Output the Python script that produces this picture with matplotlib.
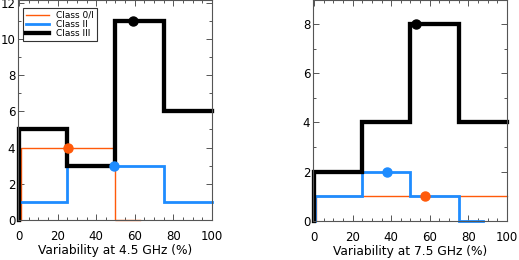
import matplotlib
matplotlib.use("Agg")
import matplotlib.pyplot as plt
from matplotlib.ticker import MultipleLocator

plt.rcParams['font.family'] = ['DejaVu Sans']

# Left panel (4.5 GHz)
l_black_edges = [0, 25, 50, 75, 100]
l_black_counts = [5, 3, 11, 6]
l_blue_edges = [0, 25, 50, 75, 100]
l_blue_counts = [1, 3, 3, 1]
l_orange_edges = [1, 50, 62.5]
l_orange_counts = [4, 0]
l_dots = {"black": (59, 11), "blue": (49, 3), "orange": (25.5, 4)}

# Right panel (7.5 GHz)
r_black_edges = [0, 25, 50, 75, 100]
r_black_counts = [2, 4, 8, 4]
r_blue_edges = [0.5, 25, 50, 75, 87.5]
r_blue_counts = [1, 2, 1, 0]
r_orange_edges = [1, 100]
r_orange_counts = [1]
r_dots = {"black": (53, 8), "blue": (38, 2), "orange": (57.5, 1)}

ORANGE = "#FF5A0A"
BLUE = "#1E8CFF"
BLACK = "#000000"
styles = {"orange": (ORANGE, 1.0, "Class 0/I"),
          "blue": (BLUE, 2.0, "Class II"),
          "black": (BLACK, 3.1, "Class III")}

fig = plt.figure(figsize=(5.19, 2.6), dpi=100)
axL = fig.add_axes([18/519, 1-220/260, 194/519, 220/260])
axR = fig.add_axes([313/519, 1-221/260, 194/519, 221/260])


def steps(ax, edges, counts, key):
    c, lw, lab = styles[key]
    x = [edges[0]] + list(edges)
    y = [0] + list(counts) + [counts[-1]]
    ax.plot(x, y, drawstyle="steps-post", color=c, lw=lw, label=lab,
            solid_joinstyle="miter", clip_on=False)


def dots(ax, d):
    for key, (x, y) in d.items():
        c = styles[key][0]
        ax.plot([x], [y], 'o', color=c, ms=6.5, zorder=5)


steps(axL, l_orange_edges, l_orange_counts, "orange")
steps(axL, l_blue_edges, l_blue_counts, "blue")
steps(axL, l_black_edges, l_black_counts, "black")
dots(axL, l_dots)

steps(axR, r_orange_edges, r_orange_counts, "orange")
steps(axR, r_blue_edges, r_blue_counts, "blue")
steps(axR, r_black_edges, r_black_counts, "black")
dots(axR, r_dots)

axL.set_xlim(-0.5, 100)
axL.set_ylim(0, 12.15)
axR.set_xlim(-0.5, 100)
axR.set_ylim(0, 8.97)

for ax, lab in [(axL, "Variability at 4.5 GHz (%)"), (axR, "Variability at 7.5 GHz (%)")]:
    ax.xaxis.set_major_locator(MultipleLocator(20))
    ax.xaxis.set_minor_locator(MultipleLocator(5))
    ax.yaxis.set_major_locator(MultipleLocator(2))
    ax.yaxis.set_minor_locator(MultipleLocator(1))
    ax.tick_params(which='both', direction='in', top=True, right=True,
                   color='#555555', labelsize=8.5)
    ax.tick_params(which='major', length=4, width=0.7)
    ax.tick_params(which='minor', length=2.5, width=0.7)
    ax.tick_params(axis='x', pad=7.5)
    ax.tick_params(axis='y', pad=2)
    for s in ax.spines.values():
        s.set_color('#555555')
        s.set_linewidth(0.8)
    ax.set_xlabel(lab, fontsize=8.8, labelpad=0.5)

handles, labels = axL.get_legend_handles_labels()
leg = axL.legend(handles, labels, loc='upper left', bbox_to_anchor=(0.025, 0.965),
                 fontsize=6.5, handlelength=2.6, labelspacing=0.0,
                 borderpad=0.35, handletextpad=0.7, fancybox=False,
                 framealpha=1, edgecolor='#333333', borderaxespad=0)
leg.get_frame().set_linewidth(0.8)

fig.savefig("out.png", dpi=100)
